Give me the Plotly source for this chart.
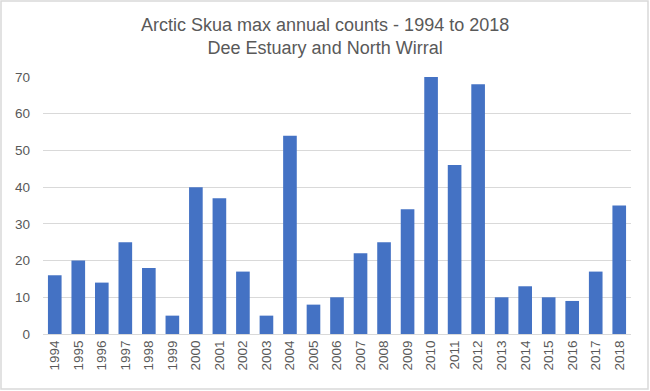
import plotly.graph_objects as go

years = [str(y) for y in range(1994, 2019)]
counts = [16, 20, 14, 25, 18, 5, 40, 37, 17, 5, 54, 8, 10, 22, 25, 34, 70, 46, 68, 10, 13, 10, 9, 17, 35]
title_lines = ["Arctic Skua max annual counts - 1994 to 2018", "Dee Estuary and North Wirral"]

W, H = 650, 391
ml, mr, mt, mb = 43, 19, 77, 57
pw = W - ml - mr
ph = H - mt - mb

fig = go.Figure(go.Bar(x=years, y=counts, marker_color="#4472C4", marker_line_width=0))

fig.update_layout(
    width=W, height=H,
    margin=dict(l=ml, r=mr, t=mt, b=mb, autoexpand=False),
    paper_bgcolor="white", plot_bgcolor="white",
    bargap=0.42,
    showlegend=False,
    font=dict(family="Liberation Sans, Arial, sans-serif", color="#595959", size=13),
    xaxis=dict(
        type="category", tickangle=-90, showgrid=False, showline=True,
        linecolor="#D9D9D9", linewidth=1, ticks="", tickfont=dict(size=13.5, color="#595959"),
    ),
    yaxis=dict(
        range=[0, 70], dtick=10, showgrid=True, gridcolor="#D9D9D9", gridwidth=1,
        zeroline=False, showline=False, ticks="", ticklen=0, ticklabelstandoff=12,
        tickfont=dict(size=13.5, color="#595959"),
    ),
)

# title as annotation (centered vertically at ~36 px from top)
fig.add_annotation(
    text="<br>".join(title_lines), xref="paper", yref="paper",
    x=(W / 2 - ml) / pw, y=1 + (mt - 36) / ph, xanchor="center", yanchor="middle",
    showarrow=False, font=dict(size=18, color="#595959"),
)

# chart area border
fig.add_shape(
    type="rect", xref="paper", yref="paper",
    x0=(-ml + 1) / pw, x1=1 + (mr - 2) / pw,
    y0=(-mb + 2) / ph, y1=1 + (mt - 1) / ph,
    line=dict(color="#D9D9D9", width=1.5), fillcolor="rgba(0,0,0,0)", layer="below",
)

fig.write_html(
    "out.html",
    config={"displayModeBar": False},
    post_script="document.body.style.margin='0';",
)
